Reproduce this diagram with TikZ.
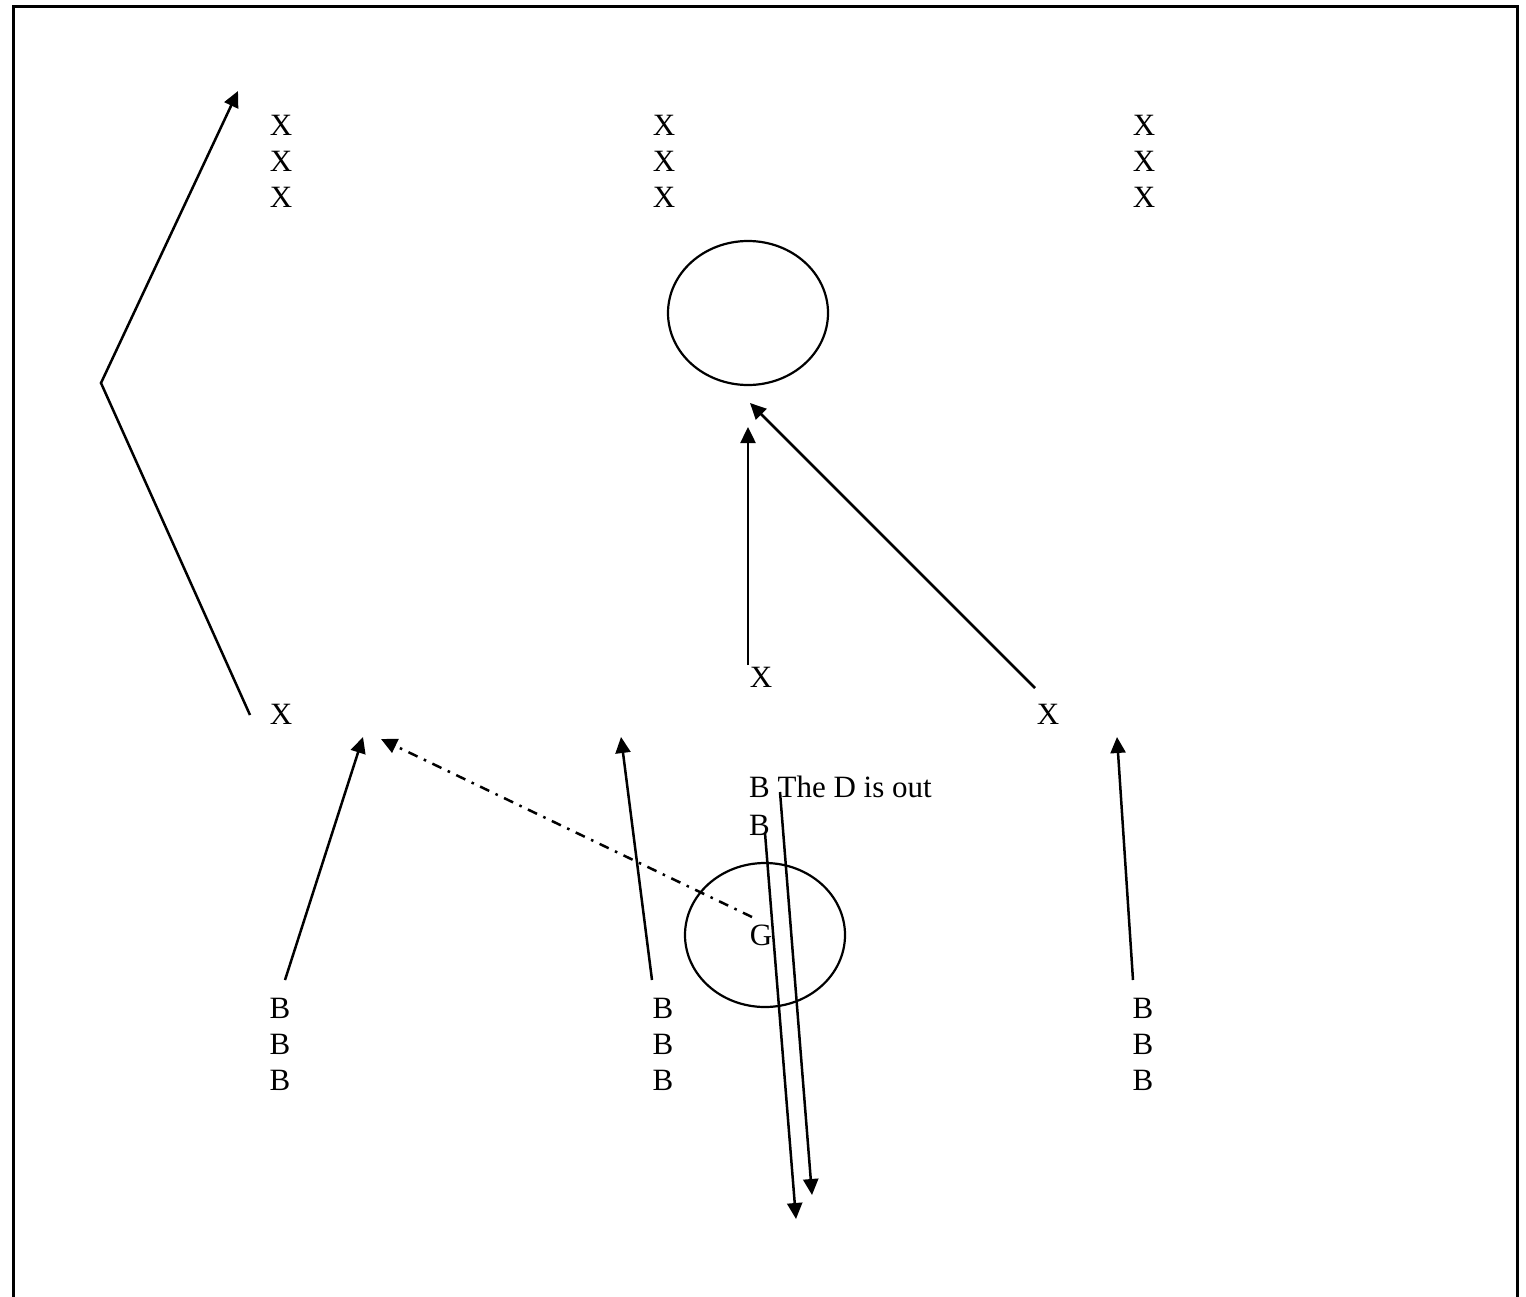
\documentclass[tikz,border=0pt]{standalone}
\usepackage{fontspec}
\setmainfont{Liberation Serif}
\usetikzlibrary{arrows.meta}
\begin{document}
\begin{tikzpicture}[x=1pt,y=-1pt,
  lbl/.style={inner sep=0pt,anchor=base,font=\fontsize{31}{36}\selectfont},
  arr/.style={line width=2.5pt,-{Triangle[length=16pt,width=15pt]}},
  ring/.style={line width=2.2pt}]
\useasboundingbox (0,0) rectangle (1526,1296);
% frame (bottom edge outside the picture)
\draw[line width=3pt] (13,1310) -- (13,6) -- (1517,6) -- (1517,1310);
% top X columns
\foreach \c/\x in {a/281,b/664,c/1144}{
  \node[lbl] (tx\c1) at (\x,135) {X};
  \node[lbl] (tx\c2) at (\x,171) {X};
  \node[lbl] (tx\c3) at (\x,207) {X};
}
% bottom B columns
\foreach \c/\x in {a/280,b/663,c/1143}{
  \node[lbl] (bb\c1) at (\x,1018) {B};
  \node[lbl] (bb\c2) at (\x,1054) {B};
  \node[lbl] (bb\c3) at (\x,1090) {B};
}
% middle X players
\node[lbl] (xl) at (281,724) {X};
\node[lbl] (xm) at (761,687) {X};
\node[lbl] (xr) at (1048,724) {X};
% text
\node[lbl,anchor=base west] (b1) at (749,797) {B The D is out};
\node[lbl,anchor=base west] (b2) at (749,835) {B};
\node[lbl] (g) at (761,945) {G};
% circles
\draw[ring] (748,313) ellipse [x radius=80, y radius=72];
\draw[ring] (765,935) ellipse [x radius=80, y radius=72];
% coordinates
\coordinate (l0) at (250,715);
\coordinate (l1) at (101,383);
\coordinate (l2) at (238,91);
\coordinate (v0) at (748,665);
\coordinate (v1) at (748,427);
\coordinate (d0) at (1035,688);
\coordinate (d1) at (750,403);
\coordinate (p0) at (285,980);
\coordinate (p1) at (363,737);
\coordinate (q0) at (652,980);
\coordinate (q1) at (621,737);
\coordinate (r0) at (1133,980);
\coordinate (r1) at (1117,737);
\coordinate (s0) at (752,917);
\coordinate (s1) at (381,739);
\coordinate (u0) at (765,833);
\coordinate (u1) at (796,1219);
\coordinate (w0) at (780,792);
\coordinate (w1) at (812,1195);
% connectors
\draw[arr] (l0) -- (l1) -- (l2);
\draw[arr] (v0) -- (v1);
\draw[arr] (d0) -- (d1);
\draw[arr] (p0) -- (p1);
\draw[arr] (q0) -- (q1);
\draw[arr] (r0) -- (r1);
\draw[arr,dash pattern=on 10pt off 7pt on 2.5pt off 7pt] (s0) -- (s1);
\draw[arr] (u0) -- (u1);
\draw[arr] (w0) -- (w1);
\end{tikzpicture}
\end{document}
